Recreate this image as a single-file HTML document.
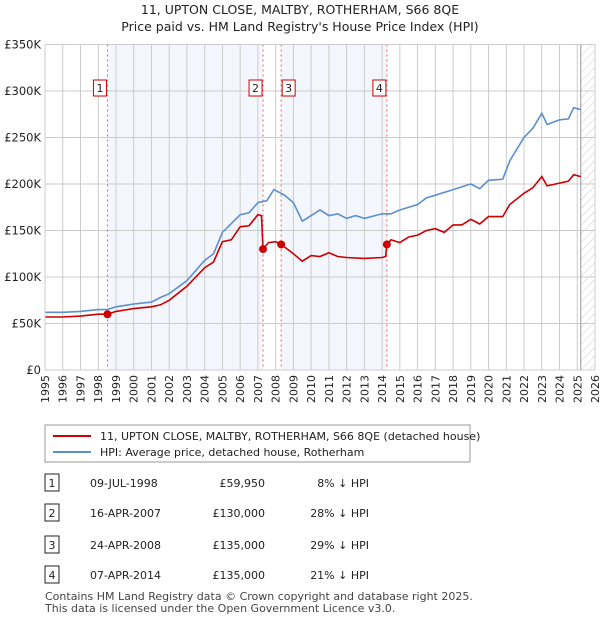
<!DOCTYPE html>
<html><head><meta charset="utf-8"><style>
body{margin:0;background:#fff;font-family:"Liberation Sans","DejaVu Sans",sans-serif;}
svg text{font-family:"DejaVu Sans","Liberation Sans",sans-serif;}
</style></head><body>
<svg id="c" width="600" height="620" xmlns="http://www.w3.org/2000/svg">
<defs><pattern id="hatch" width="6" height="6" patternUnits="userSpaceOnUse" patternTransform="rotate(45)"><line x1="0" y1="0" x2="0" y2="6" stroke="#ccc" stroke-width="1"/></pattern></defs>
<text x="300" y="14" text-anchor="middle" font-size="12.5" fill="#222">11, UPTON CLOSE, MALTBY, ROTHERHAM, S66 8QE</text>
<text x="300" y="31" text-anchor="middle" font-size="12.5" fill="#222">Price paid vs. HM Land Registry's House Price Index (HPI)</text>
<g id="plot"></g>
<g>
<rect x="45" y="425" width="425" height="37" fill="#fff" stroke="#999"/>
<line x1="53" y1="436" x2="91" y2="436" stroke="#cc0000" stroke-width="2"/>
<text x="100" y="440" font-size="11" fill="#222">11, UPTON CLOSE, MALTBY, ROTHERHAM, S66 8QE (detached house)</text>
<line x1="53" y1="452" x2="91" y2="452" stroke="#5b8fd1" stroke-width="2"/>
<text x="100" y="456" font-size="11" fill="#222">HPI: Average price, detached house, Rotherham</text>
</g>
<g id="tbl" font-size="11" fill="#222"></g>
<text x="45" y="600" font-size="11" fill="#444">Contains HM Land Registry data © Crown copyright and database right 2025.</text>
<text x="45" y="612" font-size="11" fill="#444">This data is licensed under the Open Government Licence v3.0.</text>
</svg>
<script>
const hpiYears=[1995,1996,1997,1998,1998.5,1999,2000,2001,2001.5,2002,2003,2004,2004.5,2005,2006,2006.5,2007,2007.5,2007.9,2008.5,2009,2009.5,2010,2010.5,2011,2011.5,2012,2012.5,2013,2014,2014.5,2015,2016,2016.5,2017,2018,2019,2019.5,2020,2020.8,2021.2,2022,2022.5,2023,2023.3,2024,2024.5,2024.8,2025.2];
const hpiValues=[62,62,63,65,65,68,71,73,78,82,96,118,125,148,167,169,180,182,194,188,180,160,166,172,166,168,163,166,163,168,168,172,178,185,188,194,200,195,204,205,225,250,260,276,264,269,270,282,280];
const priceYears=[1995,1996,1997,1998,1998.52,1999,2000,2001,2001.5,2002,2003,2004,2004.5,2005,2005.5,2006,2006.5,2007,2007.2,2007.29,2007.6,2008,2008.31,2009,2009.5,2010,2010.5,2011,2011.5,2012,2013,2014,2014.2,2014.27,2014.5,2015,2015.5,2016,2016.5,2017,2017.5,2018,2018.5,2019,2019.5,2020,2020.8,2021.2,2022,2022.5,2023,2023.3,2024,2024.5,2024.8,2025.2];
const priceValues=[57,57,58,60,59.95,63,66,68,70,75,90,110,116,138,140,154,155,167,166,130,137,138,135,125,117,123,122,126,122,121,120,121,122,135,140,137,143,145,150,152,148,156,156,162,157,165,165,178,190,196,208,198,201,203,210,208];
const saleYears=[1998.52,2007.29,2008.31,2014.27];
const saleValues=[59.95,130,135,135];
const saleLabels=["1","2","3","4"];
const saleDates=["09-JUL-1998","16-APR-2007","24-APR-2008","07-APR-2014"];
const salePrices=["£59,950","£130,000","£135,000","£135,000"];
const saleHpi=["8% ↓ HPI","28% ↓ HPI","29% ↓ HPI","21% ↓ HPI"];
const yTicks=[0,50,100,150,200,250,300,350];
const yTickLabels=["£0","£50K","£100K","£150K","£200K","£250K","£300K","£350K"];
const xTicks=[1995,1996,1997,1998,1999,2000,2001,2002,2003,2004,2005,2006,2007,2008,2009,2010,2011,2012,2013,2014,2015,2016,2017,2018,2019,2020,2021,2022,2023,2024,2025,2026];
const L=45,R=595,T=44.5,B=370;
const x=v=>L+(v-1995)/(2026-1995)*(R-L);
const y=v=>B-v/350*(B-T);
const NS="http://www.w3.org/2000/svg";
const g=document.getElementById('plot');
function mk(t,a,p){const e=document.createElementNS(NS,t);for(const k in a)e.setAttribute(k,a[k]);(p||g).appendChild(e);return e;}
let e;
e=mk('rect',{x:x(saleYears[0]),y:T,width:x(saleYears[1])-x(saleYears[0]),height:B-T,fill:'#f3f6fd'});


e=mk('rect',{x:x(saleYears[2]),y:T,width:x(saleYears[3])-x(saleYears[2]),height:B-T,fill:'#f3f6fd'});


e=mk('rect',{x:x(2025.2),y:T,width:R-x(2025.2),height:B-T,fill:'url(#hatch)'});


xTicks.forEach(t=>{
 e=mk('line',{x1:x(t),x2:x(t),y1:T,y2:B,stroke:'#ccc'});
 
 
 e=mk('text',{x:0,y:0,transform:`translate(${x(t)+4},${B+5}) rotate(-90)`,'text-anchor':'end','font-size':11,fill:'#222'});
 e.textContent=t;
 
 
});
yTicks.forEach((t,i)=>{
 e=mk('line',{x1:L,x2:R,y1:y(t),y2:y(t),stroke:'#ccc'});
 
 
 e=mk('text',{x:L-4,y:y(t)+4,'text-anchor':'end','font-size':11.5,fill:'#222'});
 e.textContent=yTickLabels[i];
 
 
});
e=mk('line',{x1:x(2025.2),x2:x(2025.2),y1:T,y2:B,stroke:'#999'});


saleYears.forEach((s,i)=>{
 e=mk('line',{x1:x(s),x2:x(s),y1:T,y2:B,stroke:'#f06060','stroke-dasharray':'2,3'});
 
 
});
const pts=(xs,vs)=>xs.map((v,i)=>x(v).toFixed(1)+','+y(vs[i]).toFixed(1)).join(' ');
e=mk('polyline',{points:pts(hpiYears,hpiValues),fill:'none',stroke:'#5b8fd1','stroke-width':1.6});


e=mk('polyline',{points:pts(priceYears,priceValues),fill:'none',stroke:'#cc0000','stroke-width':1.6});


saleYears.forEach((s,i)=>{
 e=mk('circle',{cx:x(s),cy:y(saleValues[i]),r:4,fill:'#cc0000'});
 
 
 const lx=x(s)-(i===2?-7:8);
 e=mk('rect',{x:lx-6,y:80,width:13,height:16,fill:'#fff',stroke:'#cc0000'});
 
 
 e=mk('text',{x:lx+0.5,y:92,'text-anchor':'middle','font-size':11,fill:'#222'});
 e.textContent=saleLabels[i];
 
 
});
e=mk('rect',{x:L,y:T,width:R-L,height:B-T,fill:'none',stroke:'#ccc'});
const tb=document.getElementById('tbl');
const rowY=[483,513,545,575];
saleLabels.forEach((l,i)=>{
 const yy=rowY[i];
 e=mk('rect',{x:45,y:yy-9,width:14,height:17,fill:'#fff',stroke:'#222'},tb);
 
 
 e=mk('text',{x:52,y:yy+4,'text-anchor':'middle'},tb);e.textContent=l;
 
 
 e=mk('text',{x:90,y:yy+4},tb);e.textContent=saleDates[i];
 
 
 e=mk('text',{x:265,y:yy+4,'text-anchor':'end'},tb);e.textContent=salePrices[i];
 
 
 e=mk('text',{x:369,y:yy+4,'text-anchor':'end'},tb);e.textContent=saleHpi[i];
 
 
});
</script>
</body></html>
